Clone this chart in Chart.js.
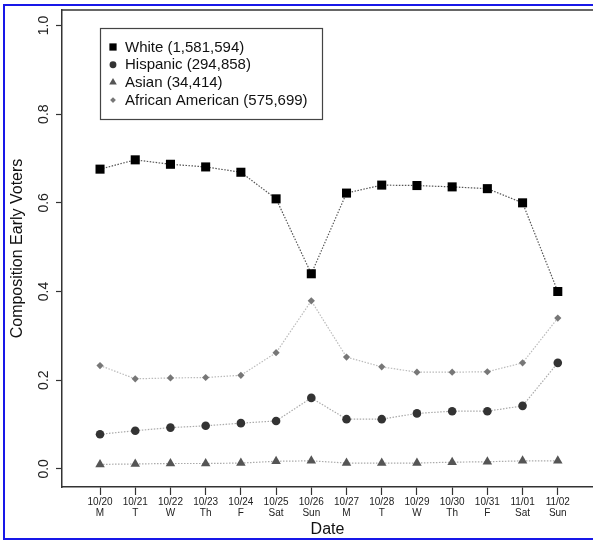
<!DOCTYPE html>
<html>
<head>
<meta charset="utf-8">
<script src="https://cdn.jsdelivr.net/npm/chart.js@4.4.1/dist/chart.umd.min.js"></script>
<style>
  html, body { margin: 0; padding: 0; background: #fff; overflow: hidden; }
  #wrap { position: relative; width: 593px; height: 541px; overflow: hidden; }
  #frame { position: absolute; left: 3px; top: 4px; width: 640px; height: 536px;
           box-sizing: border-box; border: 2px solid #1818e8; pointer-events: none; }
</style>
</head>
<body>
<div id="wrap">
  <canvas id="myChart" width="593" height="541"></canvas>
  <div id="frame"></div>
</div>
<script>
// data
const dates = ["10/20", "10/21", "10/22", "10/23", "10/24", "10/25", "10/26",
               "10/27", "10/28", "10/29", "10/30", "10/31", "11/01", "11/02"];
const days = ["M", "T", "W", "Th", "F", "Sat", "Sun", "M", "T", "W", "Th", "F", "Sat", "Sun"];
const groups = ["White", "Hispanic", "Asian", "African American"];
const totals = ["1,581,594", "294,858", "34,414", "575,699"];

const white = [0.676, 0.697, 0.687, 0.681, 0.669, 0.609, 0.440, 0.622, 0.640, 0.639, 0.636, 0.632, 0.600, 0.400];
const hispanic = [0.078, 0.086, 0.093, 0.097, 0.103, 0.108, 0.160, 0.112, 0.112, 0.125, 0.130, 0.130, 0.142, 0.239];
const asian = [0.010, 0.011, 0.012, 0.012, 0.013, 0.017, 0.018, 0.013, 0.013, 0.013, 0.015, 0.016, 0.018, 0.018];
const africanAmerican = [0.233, 0.203, 0.205, 0.206, 0.211, 0.262, 0.379, 0.252, 0.230, 0.218, 0.218, 0.219, 0.239, 0.340];

const yTicks = [0, 0.2, 0.4, 0.6, 0.8, 1.0];

Chart.defaults.font.family = "'Liberation Sans', Arial, sans-serif";
Chart.defaults.color = "#111";

function series(i, values, style) {
    return Object.assign({
        label: groups[i] + " (" + totals[i] + ")",
        data: values.map((v, k) => ({ x: k, y: v })),
        showLine: true,
        fill: false,
        tension: 0,
        borderWidth: 1.2,
        borderDash: [1.5, 1.5],
        pointBorderWidth: 0
    }, style);
}

// legend box drawn inside the plot like the original R figure
const boxLegend = {
    id: "boxLegend",
    afterDraw(chart) {
        const ctx = chart.ctx;
        const area = chart.chartArea;
        ctx.save();
        // top frame line of the plot box
        ctx.strokeStyle = "#333";
        ctx.lineWidth = 1.5;
        ctx.beginPath();
        ctx.moveTo(area.left, area.top);
        ctx.lineTo(area.right, area.top);
        ctx.stroke();

        ctx.strokeStyle = "#444";
        ctx.lineWidth = 1.2;
        ctx.strokeRect(100.5, 28.5, 222, 91);

        ctx.font = "15px 'Liberation Sans', Arial, sans-serif";
        ctx.textBaseline = "middle";
        ctx.textAlign = "left";
        chart.data.datasets.forEach((ds, i) => {
            const y = 47 + i * 17.7;
            ctx.fillStyle = ds.pointBackgroundColor;
            if (Chart.helpers && Chart.helpers.drawPoint) {
                Chart.helpers.drawPoint(ctx, {
                    pointStyle: ds.pointStyle,
                    radius: ds.pointRadius * 0.8,
                    rotation: 0,
                    borderWidth: 0
                }, 113, y);
            } else {
                ctx.beginPath();
                ctx.arc(113, y, 3.5, 0, Math.PI * 2);
                ctx.fill();
            }
            ctx.fillStyle = "#111";
            ctx.fillText(ds.label, 125, y + 0.5);
        });
        ctx.restore();
    }
};

new Chart("myChart", {
    type: "line",
    data: {
        datasets: [
            series(0, white, { borderColor: "#555", pointStyle: "rect", pointRadius: 6.4,
                               pointBackgroundColor: "#000" }),
            series(1, hispanic, { borderColor: "#aaa", pointStyle: "circle", pointRadius: 4.3,
                                  pointBackgroundColor: "#333" }),
            series(2, asian, { borderColor: "#aaa", pointStyle: "triangle", pointRadius: 5.5,
                               pointBackgroundColor: "#555" }),
            series(3, africanAmerican, { borderColor: "#bbb", pointStyle: "rectRot", pointRadius: 3.6,
                                         pointBackgroundColor: "#777" })
        ]
    },
    options: {
        responsive: false,
        animation: false,
        devicePixelRatio: 1,
        layout: { autoPadding: false, padding: { left: 0, top: 10, right: 0, bottom: 0 } },
        plugins: {
            legend: { display: false },
            tooltip: { enabled: false }
        },
        scales: {
            x: {
                type: "linear",
                min: -1.08,
                max: 14.0,
                afterBuildTicks: s => { s.ticks = dates.map((d, i) => ({ value: i })); },
                afterFit: s => { s.height = 54; s.paddingLeft = 0; s.paddingRight = 0; },
                border: { display: true, color: "#333", width: 1.5 },
                grid: { display: true, drawOnChartArea: false, drawTicks: true,
                        tickLength: 8, tickColor: "#333", tickWidth: 1.2 },
                ticks: {
                    autoSkip: false,
                    maxRotation: 0,
                    padding: 2,
                    color: "#222",
                    font: { size: 10, lineHeight: 1.1 },
                    callback: v => [dates[v], days[v]]
                },
                title: { display: true, text: "Date", font: { size: 16 },
                         padding: { top: 0, bottom: 2 } }
            },
            y: {
                min: -0.041,
                max: 1.035,
                afterBuildTicks: s => { s.ticks = yTicks.map(v => ({ value: v })); },
                afterFit: s => { s.width = 62; s.paddingTop = 0; s.paddingBottom = 0; },
                border: { display: true, color: "#333", width: 1.5 },
                grid: { display: true, drawOnChartArea: false, drawTicks: true,
                        tickLength: 6, tickColor: "#333", tickWidth: 1.2 },
                ticks: {
                    minRotation: 90,
                    maxRotation: 90,
                    crossAlign: "center",
                    padding: 2,
                    color: "#222",
                    font: { size: 14, lineHeight: 1 },
                    callback: v => v.toFixed(1)
                },
                title: { display: true, text: "Composition Early Voters", font: { size: 16 },
                         padding: { top: 8, bottom: 0 } }
            }
        }
    },
    plugins: [boxLegend]
});
</script>
</body>
</html>
